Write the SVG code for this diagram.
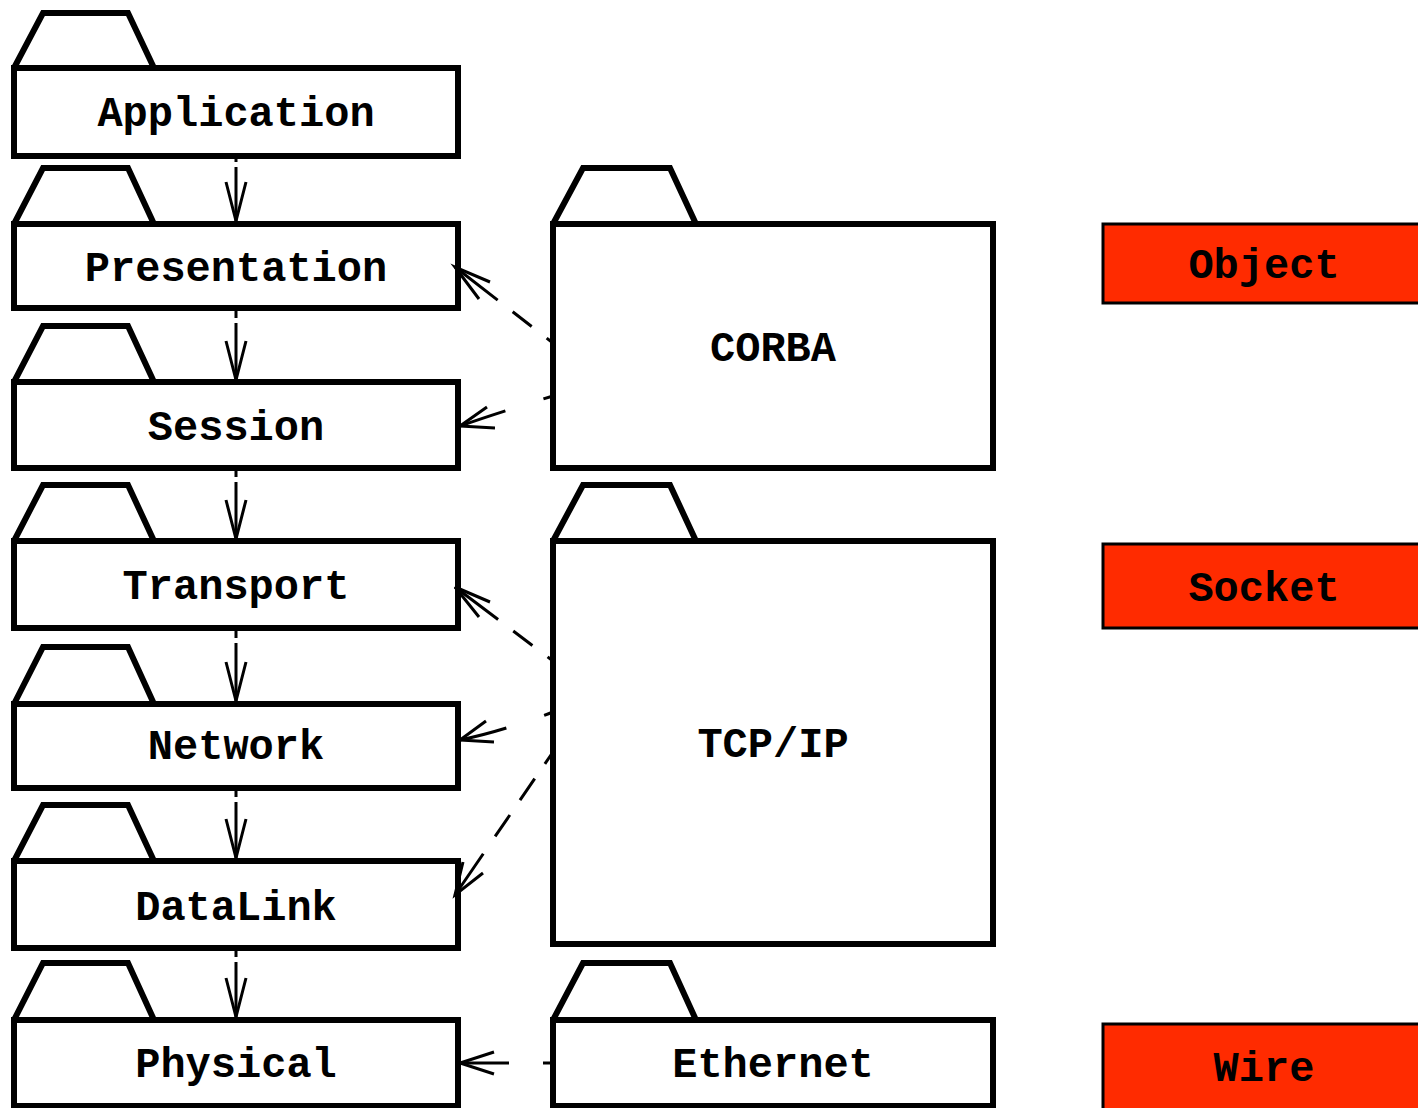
<svg xmlns="http://www.w3.org/2000/svg" width="1418" height="1108" viewBox="0 0 1418 1108">
<style>
.pk{fill:#fff;stroke:#000;stroke-width:6;stroke-linejoin:miter}
.tab{fill:#fff;stroke:#000;stroke-width:6;stroke-linejoin:miter}
.red{fill:#ff2b00;stroke:#000;stroke-width:3}
.t{font-family:"Liberation Mono","Courier New",monospace;font-weight:bold;font-size:42px;text-anchor:middle;fill:#000}
.c{fill:none;stroke:#000;stroke-width:3}
.ah{fill:none;stroke:#000;stroke-width:3;stroke-linecap:butt}
</style>
<rect width="1418" height="1108" fill="#fff"/>
<g id="Application">
<path class="tab" d="M14,68 L43,13 L128,13 L154,68"/>
<rect class="pk" x="14" y="68" width="444" height="88"/>
<text class="t" x="236" y="126">Application</text>
</g>
<g id="Presentation">
<path class="tab" d="M14,224 L43,168 L128,168 L154,224"/>
<rect class="pk" x="14" y="224" width="444" height="84"/>
<text class="t" x="236" y="281">Presentation</text>
</g>
<g id="Session">
<path class="tab" d="M14,382 L43,326 L128,326 L154,382"/>
<rect class="pk" x="14" y="382" width="444" height="86"/>
<text class="t" x="236" y="440">Session</text>
</g>
<g id="Transport">
<path class="tab" d="M14,541 L43,485 L128,485 L154,541"/>
<rect class="pk" x="14" y="541" width="444" height="87"/>
<text class="t" x="236" y="599">Transport</text>
</g>
<g id="Network">
<path class="tab" d="M14,704 L43,647 L128,647 L154,704"/>
<rect class="pk" x="14" y="704" width="444" height="84"/>
<text class="t" x="236" y="759">Network</text>
</g>
<g id="DataLink">
<path class="tab" d="M14,861 L43,805 L128,805 L154,861"/>
<rect class="pk" x="14" y="861" width="444" height="87"/>
<text class="t" x="236" y="920">DataLink</text>
</g>
<g id="Physical">
<path class="tab" d="M14,1020 L43,963 L128,963 L154,1020"/>
<rect class="pk" x="14" y="1020" width="444" height="86"/>
<text class="t" x="236" y="1077">Physical</text>
</g>
<g id="CORBA">
<path class="tab" d="M553,224 L583,168 L670,168 L696,224"/>
<rect class="pk" x="553" y="224" width="440" height="244"/>
<text class="t" x="773" y="361">CORBA</text>
</g>
<g id="TCPIP">
<path class="tab" d="M553,541 L583,485 L670,485 L696,541"/>
<rect class="pk" x="553" y="541" width="440" height="403"/>
<text class="t" x="773" y="757">TCP/IP</text>
</g>
<g id="Ethernet">
<path class="tab" d="M553,1020 L583,963 L670,963 L696,1020"/>
<rect class="pk" x="553" y="1020" width="440" height="86"/>
<text class="t" x="773" y="1077">Ethernet</text>
</g>
<g id="Object">
<rect class="red" x="1103" y="224" width="330" height="79"/>
<text class="t" x="1264" y="278">Object</text>
</g>
<g id="Socket">
<rect class="red" x="1103" y="544" width="330" height="84"/>
<text class="t" x="1264" y="601">Socket</text>
</g>
<g id="Wire">
<rect class="red" x="1103" y="1024" width="330" height="90"/>
<text class="t" x="1264" y="1081">Wire</text>
</g>
<g id="connectors">
<path class="c" d="M236,221 L236,156" stroke-dasharray="54 5 100"/>
<path class="ah" d="M226,182 L236,221 L246,182"/>
<path class="c" d="M236,380 L236,308" stroke-dasharray="57 5 100"/>
<path class="ah" d="M226,341 L236,380 L246,341"/>
<path class="c" d="M236,539 L236,468" stroke-dasharray="57 5 100"/>
<path class="ah" d="M226,500 L236,539 L246,500"/>
<path class="c" d="M236,701 L236,628" stroke-dasharray="58 5 100"/>
<path class="ah" d="M226,662 L236,701 L246,662"/>
<path class="c" d="M236,858 L236,788" stroke-dasharray="56 5 100"/>
<path class="ah" d="M226,819 L236,858 L246,819"/>
<path class="c" d="M236,1017 L236,948" stroke-dasharray="55 5 100"/>
<path class="ah" d="M226,978 L236,1017 L246,978"/>
<path class="c" d="M455,267 L553,343" stroke-dasharray="54 19 24 19 30"/>
<path class="ah" d="M490,282 L455,267 L479,299"/>
<path class="c" d="M460,426 Q497,413 553,396" stroke-dasharray="48 40 20"/>
<path class="ah" d="M487,407 L460,426 L495,428"/>
<path class="c" d="M455,587 L553,661" stroke-dasharray="54 19 24 19 30"/>
<path class="ah" d="M490,602 L455,587 L479,617"/>
<path class="c" d="M460,740 Q500,732 553,712" stroke-dasharray="48 40 20"/>
<path class="ah" d="M486,721 L460,740 L494,742"/>
<path class="c" d="M455,895 L553,752" stroke-dasharray="50 21 26 18 26 18 30"/>
<path class="ah" d="M463,862 L455,895 L483,873"/>
<path class="c" d="M460,1063 L553,1063" stroke-dasharray="49 34 20"/>
<path class="ah" d="M494,1052 L460,1063 L494,1074"/>
</g>
</svg>
